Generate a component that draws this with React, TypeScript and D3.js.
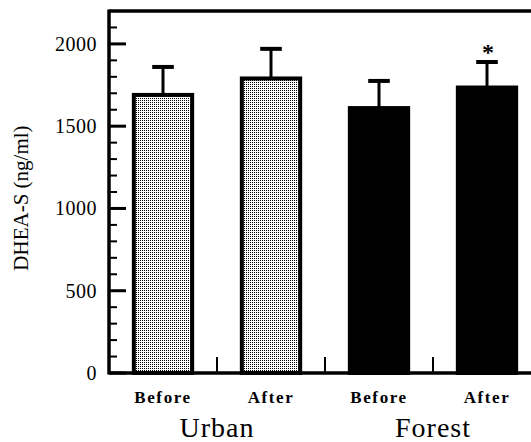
import React from "react";
import * as d3 from "d3";

const categories = ["Urban Before", "Urban After", "Forest Before", "Forest After"];
const subLabels = ["Before", "After", "Before", "After"];
const groups = ["Urban", "Forest"];
const means = [1690, 1790, 1610, 1735];
const errUpper = [1860, 1970, 1775, 1890];
const patterned = [true, true, false, false];
const significant = [false, false, false, true];
const majorTicks = [0, 500, 1000, 1500, 2000];
const minorTicks = d3.range(0, 2201, 100);

const W = 531;
const H = 442;
const FONT = "'Liberation Serif', 'Times New Roman', serif";

export default function App() {
  const y = d3.scaleLinear().domain([0, 2200]).range([373, 11]);
  const x = d3.scaleBand<string>().domain(categories).range([109, 541]).padding(0);
  const bw = x.bandwidth() * 0.54;
  const capW = x.bandwidth() * 0.2;
  const groupX = d3.scaleBand<string>().domain(groups).range([109, 541]);
  const y0 = y(0);
  const axisX = 109;
  return (
    <svg width={W} height={H} style={{ position: "absolute", left: 0, top: 0 }} fontFamily={FONT}>
      <defs>
        <pattern id="dots" width={2} height={2} patternUnits="userSpaceOnUse">
          <rect width={2} height={2} fill="#fff" />
          <rect width={1} height={1} fill="#000" shapeRendering="crispEdges" />
        </pattern>
      </defs>
      <rect width={W} height={H} fill="#fff" />
      {categories.map((c, i) => {
        const cx = x(c)! + x.bandwidth() / 2;
        const top = y(means[i]);
        return (
          <g key={c}>
            <line x1={cx} x2={cx} y1={top} y2={y(errUpper[i])} stroke="#000" strokeWidth={3} />
            <line x1={cx - capW / 2} x2={cx + capW / 2} y1={y(errUpper[i])} y2={y(errUpper[i])} stroke="#000" strokeWidth={4} />
            <rect
              x={cx - bw / 2}
              y={top}
              width={bw}
              height={y0 - top}
              fill={patterned[i] ? "url(#dots)" : "#000"}
              stroke="#000"
              strokeWidth={4}
            />
            {significant[i] && (
              <text x={cx + 1} y={y(errUpper[i]) - 2} textAnchor="middle" fontSize={24} fontWeight="bold">*</text>
            )}
            <text x={cx} y={403} textAnchor="middle" fontSize={17} fontWeight="bold" letterSpacing={1.6}>{subLabels[i]}</text>
          </g>
        );
      })}
      {categories.slice(1).map((c) => (
        <line key={c} x1={x(c)} x2={x(c)} y1={y0} y2={y0 - 16} stroke="#000" strokeWidth={2} />
      ))}
      {groups.map((g) => (
        <text key={g} x={groupX(g)! + groupX.bandwidth() / 2} y={437} textAnchor="middle" fontSize={28} letterSpacing={1}>{g}</text>
      ))}
      <line x1={axisX} x2={W} y1={y(2200)} y2={y(2200)} stroke="#000" strokeWidth={3.5} />
      <line x1={axisX} x2={W} y1={y0} y2={y0} stroke="#000" strokeWidth={3.5} />
      <line x1={axisX} x2={axisX} y1={y(2200) - 1.5} y2={y0 + 1.5} stroke="#000" strokeWidth={3.5} />
      {minorTicks.map((t) => (
        <line key={t} x1={axisX} x2={axisX + (t % 500 === 0 ? 17 : 8)} y1={y(t)} y2={y(t)} stroke="#000" strokeWidth={t % 500 === 0 ? 3 : 2} />
      ))}
      {majorTicks.map((t) => (
        <text key={t} x={97} y={y(t) + 7} textAnchor="end" fontSize={20} letterSpacing={0.5}>{t}</text>
      ))}
      <text transform={`translate(28,198) rotate(-90)`} textAnchor="middle" fontSize={21}>DHEA-S (ng/ml)</text>
    </svg>
  );
}
